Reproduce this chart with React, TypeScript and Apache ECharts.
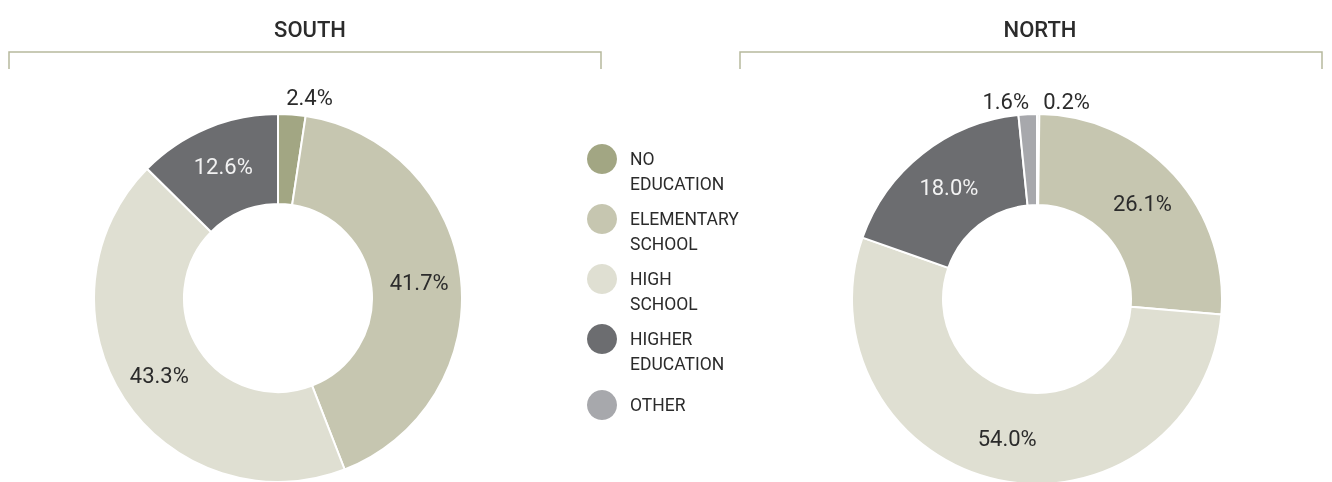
import React, { useEffect, useRef } from "react";
import * as echarts from "echarts";

const categories = ["NO\nEDUCATION", "ELEMENTARY\nSCHOOL", "HIGH\nSCHOOL", "HIGHER\nEDUCATION", "OTHER"];
const colors = ["#a2a683", "#c6c6b0", "#dfdfd2", "#6c6d70", "#a7a8ac"];
const southValues = [2.4, 41.7, 43.3, 12.6];
const northValues = [0.2, 26.1, 54.0, 18.0, 1.6];
const titles = ["SOUTH", "NORTH"];

const FONT = "Roboto, 'Noto Sans', sans-serif";

function labelFor(name: string, side: "south" | "north") {
  const base: any = {};
  if (name === "HIGHER\nEDUCATION") base.color = "#f2f2f2";
  if (side === "south" && name === "NO\nEDUCATION") {
    return { label: { position: "outside", distanceToLabelLine: -7 }, labelLine: { show: false, length: 17, length2: 0 } };
  }
  if (side === "north" && name === "NO\nEDUCATION") {
    return { label: { position: "outside", distanceToLabelLine: 5 }, labelLine: { show: false, length: 13, length2: 0 } };
  }
  if (side === "north" && name === "OTHER") {
    return { label: { position: "outside", distanceToLabelLine: -2 }, labelLine: { show: false, length: 13, length2: 0 } };
  }
  return { label: base };
}

function buildData(values: number[], side: "south" | "north") {
  return values.map((v, i) => ({
    name: categories[i],
    value: v,
    itemStyle: { color: colors[i] },
    ...labelFor(categories[i], side),
  }));
}

export default function App() {
  const ref = useRef<HTMLDivElement>(null);
  useEffect(() => {
    document.body.style.margin = "0";
    const chart = echarts.init(ref.current!, null, { renderer: "svg" });
    const iconCenters = [159, 219, 279, 339, 405];
    const legends = categories.map((c, i) => {
      const multi = c.includes("\n");
      return {
        data: [c],
        left: 582,
        top: multi ? iconCenters[i] - 37.5 - 5 : iconCenters[i] - 15 - 5,
        orient: "vertical",
        icon: "circle",
        itemWidth: 30,
        itemHeight: 30,
        selectedMode: false,
        itemStyle: { borderWidth: 0 },
        formatter: (name: string) => (name.includes("\n") ? " \n" + name : name),
        textStyle: {
          fontFamily: FONT,
          fontSize: 17.5,
          color: "#2b2b2b",
          lineHeight: 25,
          padding: [0, 0, 0, 8],
        },
      };
    });
    const seriesCommon = {
      type: "pie",
      startAngle: 90,
      clockwise: true,
      avoidLabelOverlap: false,
      silent: true,
      itemStyle: { borderColor: "#ffffff", borderWidth: 2 },
      label: {
        show: true,
        position: "inside",
        formatter: (p: any) => p.value.toFixed(1) + "%",
        fontFamily: FONT,
        fontWeight: 400,
        fontSize: 22,
        color: "#2b2b2b",
      },
      labelLine: { show: false },
      emphasis: { disabled: true },
    };
    const titleStyle = { fontFamily: FONT, fontSize: 22, fontWeight: 500, color: "#2b2b2b" };
    chart.setOption({
      animation: false,
      title: [
        { text: titles[0], left: 305, top: 13, textAlign: "center", textStyle: titleStyle },
        { text: titles[1], left: 1035, top: 13, textAlign: "center", textStyle: titleStyle },
      ],
      legend: legends,
      graphic: [
        { type: "polyline", shape: { points: [[9, 69], [9, 52], [601, 52], [601, 69]] }, style: { stroke: "#b6b99d", lineWidth: 1.5, fill: "none" } },
        { type: "polyline", shape: { points: [[740, 69], [740, 52], [1322, 52], [1322, 69]] }, style: { stroke: "#b6b99d", lineWidth: 1.5, fill: "none" } },
      ],
      series: [
        { ...seriesCommon, name: "South", center: [278, 298], radius: [94, 184], data: buildData(southValues, "south") },
        { ...seriesCommon, name: "North", center: [1037, 299], radius: [94, 185], data: buildData(northValues, "north") },
      ],
    });
    return () => chart.dispose();
  }, []);
  return <div ref={ref} style={{ position: "fixed", left: 0, top: 0, width: 1332, height: 482 }} />;
}
